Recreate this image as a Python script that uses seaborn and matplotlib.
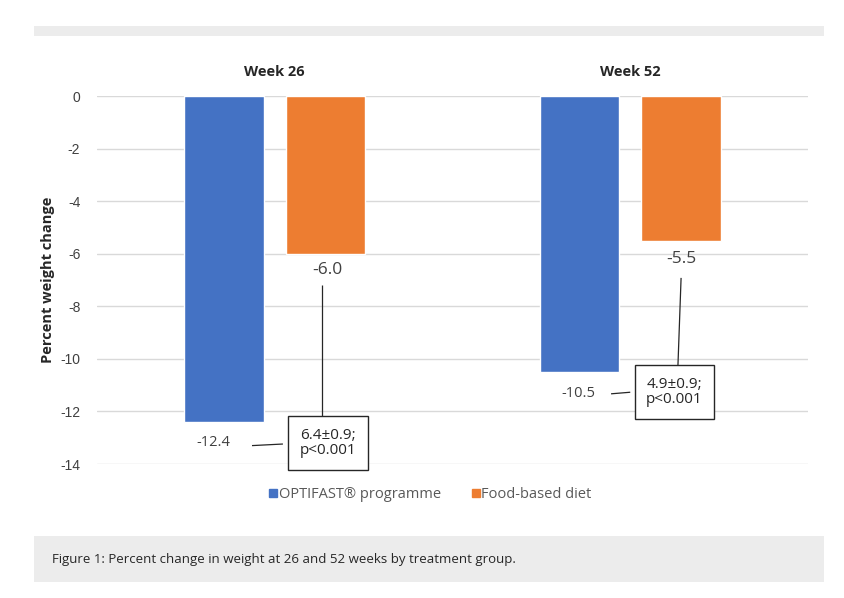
import matplotlib
matplotlib.use("Agg")
import matplotlib.pyplot as plt
import seaborn as sns
import pandas as pd
from matplotlib.patches import Rectangle

# ---- data ----
weeks = ["Week 26", "Week 52"]
groups = ["OPTIFAST\u00ae programme", "Food-based diet"]
optifast = [-12.4, -10.5]
food = [-6.0, -5.5]
differences = ["6.4\u00b10.9;\np<0.001", "4.9\u00b10.9;\np<0.001"]
yticks = [0, -2, -4, -6, -8, -10, -12, -14]
caption = "Figure 1: Percent change in weight at 26 and 52 weeks by treatment group."

df = pd.DataFrame({
    "week": weeks * 2,
    "group": [groups[0]] * 2 + [groups[1]] * 2,
    "value": optifast + food,
})

sns.set_theme(style="white")
plt.rcParams["font.family"] = ["Open Sans", "DejaVu Sans"]

fig = plt.figure(figsize=(8.44, 5.98), dpi=100)
ax = fig.add_axes([97 / 844, 1 - 464 / 598, (808 - 97) / 844, (464 - 96) / 598])

colors = ["#4472C4", "#ED7D31"]
sns.barplot(data=df, x="week", y="value", hue="group", palette=colors,
            width=0.571, gap=0.215, ax=ax, legend=False, saturation=1)

ax.set_xlim(-0.5, 1.5)
ax.set_ylim(-14, 0)
ax.set_yticks(yticks)
ax.set_yticklabels([str(t) for t in yticks], fontsize=10, color="#404040",
                   family="Liberation Sans")
for s in ax.spines.values():
    s.set_visible(False)
ax.yaxis.grid(True, color="#d9d9d9", linewidth=1)
ax.set_axisbelow(True)
ax.tick_params(axis="y", length=0, pad=12)
ax.xaxis.tick_top()
ax.tick_params(axis="x", length=0, pad=12)
ax.set_xticks(range(len(weeks)))
ax.set_xticklabels(weeks, fontsize=10.5, fontweight="bold", color="#262626")
ax.set_xlabel("")
ax.set_ylabel("Percent weight change", fontsize=10.5, fontweight="bold",
              color="#262626", labelpad=4)

# value labels and difference boxes (layout positions in data coords)
blue_label_pos = [(-0.174, -13.2), (0.853, -11.3)]
orange_label_pos = [(0.147, -6.62), (1.143, -6.2)]
box_pos = [(0.150, -13.2), (1.124, -11.26)]
vline = [((0.133, -12.25), (0.133, -7.19)), ((1.134, -10.31), (1.143, -6.92))]
hline = [((-0.064, -13.3), (0.023, -13.24)), ((0.946, -11.33), (1.0, -11.27))]

for i in range(len(weeks)):
    ax.text(*blue_label_pos[i], f"{optifast[i]:.1f}", ha="center", va="center",
            fontsize=10.5, color="#404040")
    ax.text(*orange_label_pos[i], f"{food[i]:.1f}", ha="center", va="center",
            fontsize=12.5, color="#404040")
    for (p0, p1) in (vline[i], hline[i]):
        ax.plot([p0[0], p1[0]], [p0[1], p1[1]], color="#262626", lw=0.9,
                solid_capstyle="butt")
    ax.text(*box_pos[i], differences[i], ha="center", va="center",
            fontsize=11, color="#262626", linespacing=1.05, zorder=5,
            bbox=dict(boxstyle="square,pad=0.75", fc="white", ec="#262626", lw=1))

# legend
handles = [plt.Line2D([], [], marker="s", linestyle="none", markersize=6,
                      markerfacecolor=c, markeredgecolor=c) for c in colors]
fig.legend(handles, groups, loc="center", bbox_to_anchor=(430 / 844, 1 - 495 / 598),
           ncol=2, frameon=False, fontsize=10.5, handletextpad=0.05,
           columnspacing=2.0, labelcolor="#595959", handlelength=0.7)

# decorative grey bands
fig.patches.append(Rectangle((34 / 844, 1 - 36 / 598), (824 - 34) / 844, 10 / 598,
                             transform=fig.transFigure, fc="#ececec", ec="none"))
fig.patches.append(Rectangle((34 / 844, 1 - 582 / 598), (824 - 34) / 844, 46 / 598,
                             transform=fig.transFigure, fc="#ececec", ec="none"))
fig.text(52 / 844, 1 - 559 / 598, caption, ha="left", va="center",
         fontsize=9.5, color="#262626")

fig.savefig("out.png", dpi=100)
